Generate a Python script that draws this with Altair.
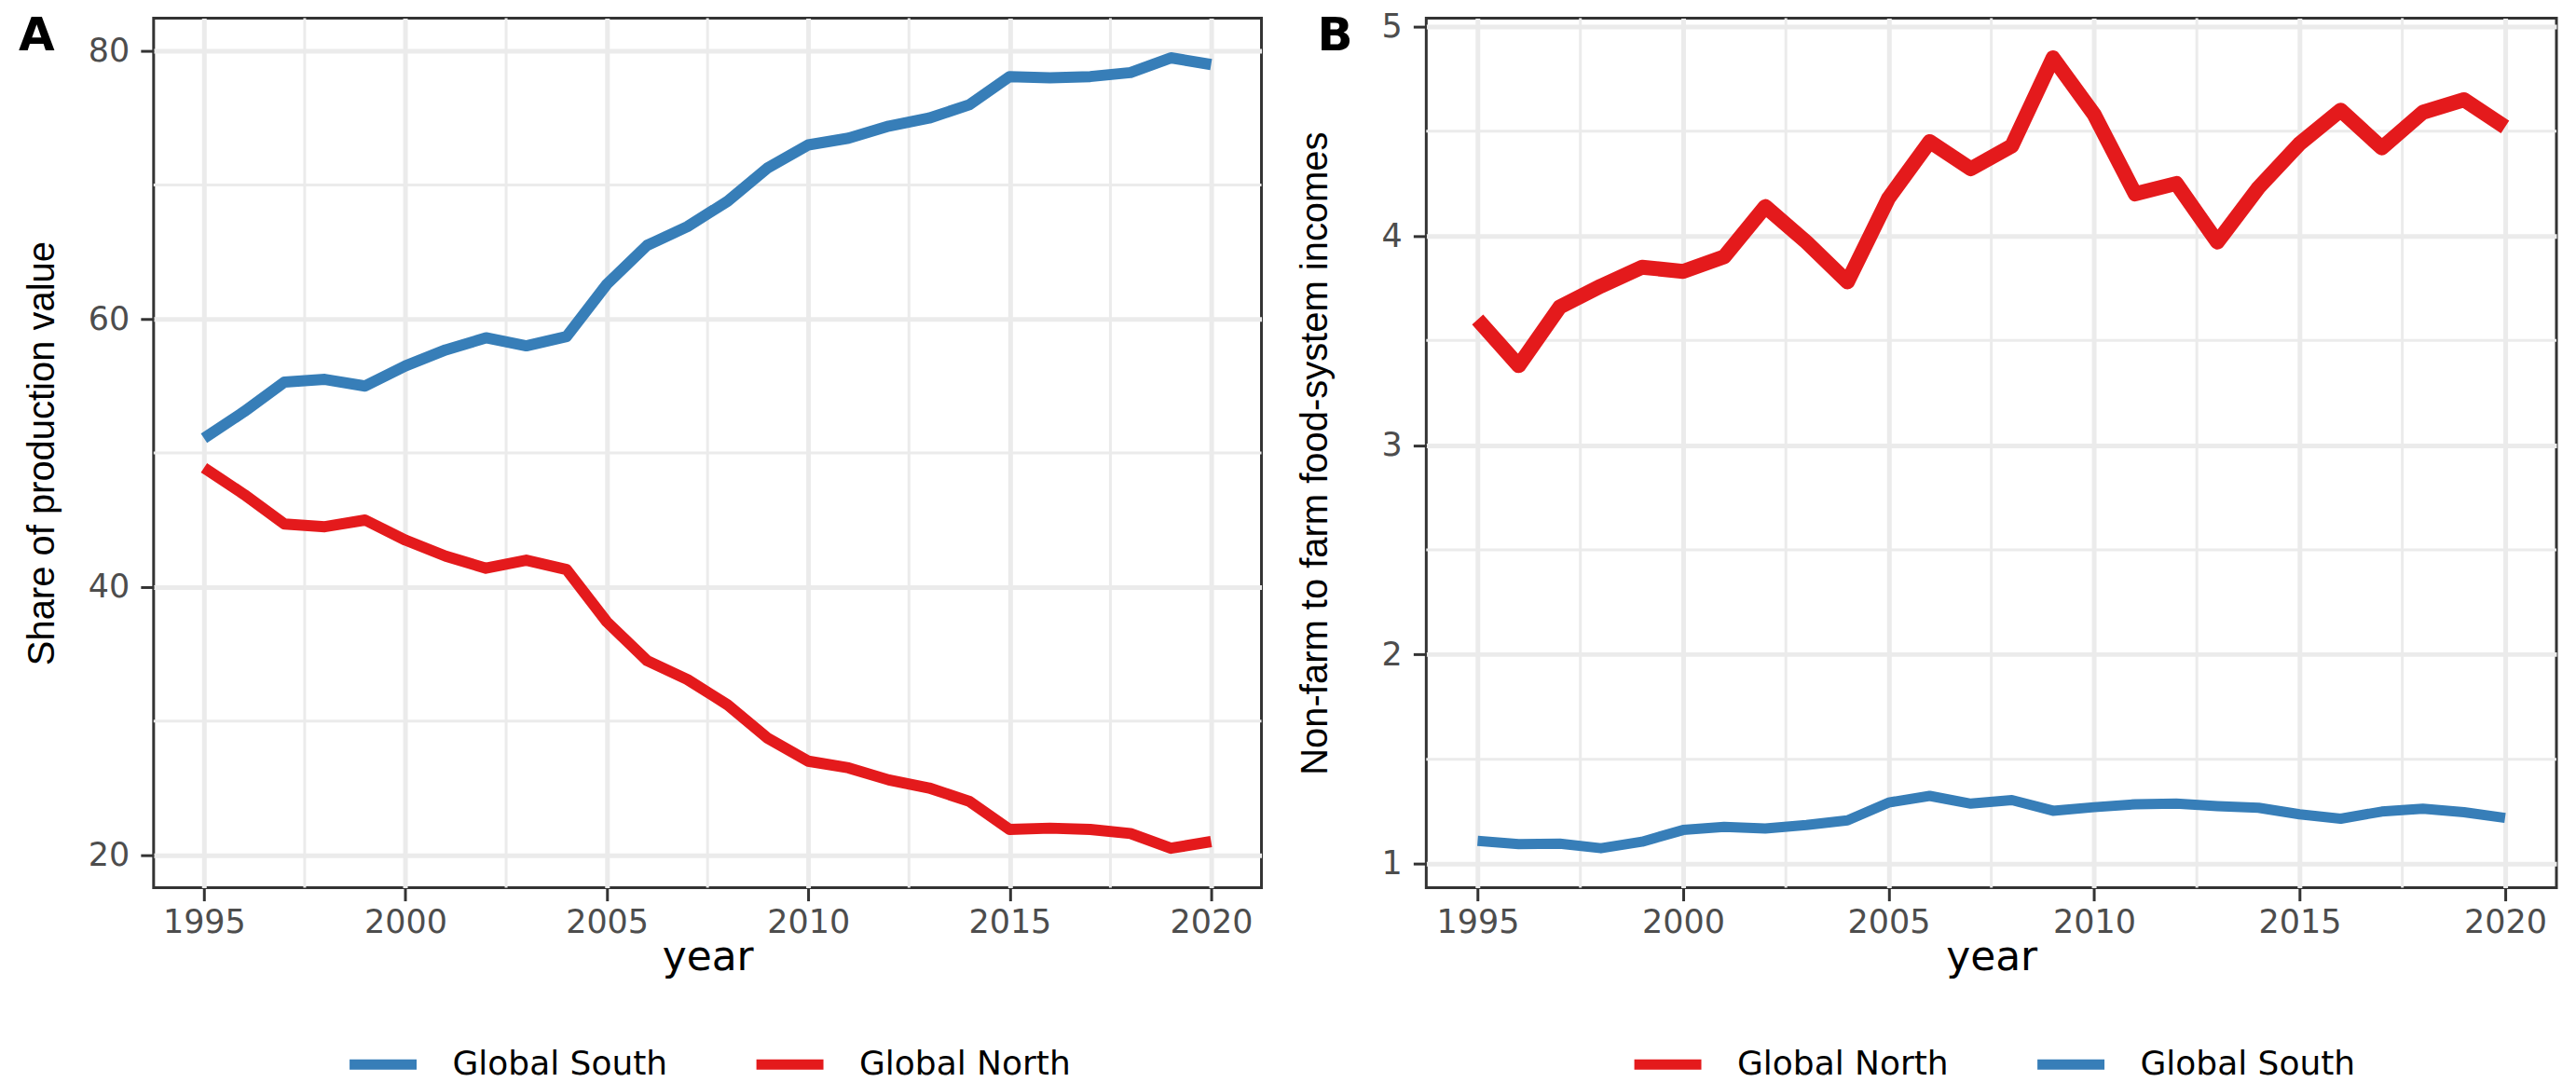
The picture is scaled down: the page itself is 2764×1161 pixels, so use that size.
import altair as alt
import pandas as pd

YEARS = list(range(1995, 2021))

A_SOUTH = [51.1, 53.1, 55.3, 55.5, 55.0, 56.5, 57.7, 58.6, 58.0, 58.7, 62.6, 65.5, 66.9,
           68.8, 71.3, 73.0, 73.5, 74.4, 75.0, 76.0, 78.1, 78.0, 78.1, 78.4, 79.5, 79.0]
A_NORTH = [48.9, 46.9, 44.7, 44.5, 45.0, 43.5, 42.3, 41.4, 42.0, 41.3, 37.4, 34.5, 33.1,
           31.2, 28.7, 27.0, 26.5, 25.6, 25.0, 24.0, 21.9, 22.0, 21.9, 21.6, 20.5, 21.0]
B_NORTH = [3.60, 3.38, 3.66, 3.76, 3.85, 3.83, 3.90, 4.14, 3.97, 3.78, 4.18, 4.45, 4.32,
           4.43, 4.85, 4.58, 4.20, 4.25, 3.97, 4.23, 4.44, 4.60, 4.42, 4.59, 4.65, 4.52]
B_SOUTH = [1.110, 1.095, 1.097, 1.075, 1.106, 1.162, 1.177, 1.169, 1.186, 1.208, 1.293, 1.325, 1.288,
           1.305, 1.254, 1.271, 1.285, 1.288, 1.276, 1.268, 1.237, 1.216, 1.250, 1.264, 1.247, 1.220]

SERIES_A = ["Global South", "Global North"]
SERIES_B = ["Global North", "Global South"]
PANEL_LETTERS = ["A", "B"]
RED = "#E41A1C"
BLUE = "#377EB8"

X_TICKS = [1995, 2000, 2005, 2010, 2015, 2020]
X_MINOR = [1997.5, 2002.5, 2007.5, 2012.5, 2017.5]
A_Y_TICKS = [20, 40, 60, 80]
A_Y_MINOR = [30, 50, 70]
B_Y_TICKS = [1, 2, 3, 4, 5]
B_Y_MINOR = [1.5, 2.5, 3.5, 4.5]

X_DOMAIN = [1993.75, 2021.25]
A_Y_DOMAIN = [17.55, 82.45]
B_Y_DOMAIN = [0.886, 5.039]

df_a = pd.DataFrame({
    "year": YEARS * 2,
    "value": A_SOUTH + A_NORTH,
    "region": ["Global South"] * len(YEARS) + ["Global North"] * len(YEARS),
})
df_b = pd.DataFrame({
    "year": YEARS * 2,
    "value": B_NORTH + B_SOUTH,
    "region": ["Global North"] * len(YEARS) + ["Global South"] * len(YEARS),
})

GRID = "#EBEBEB"
XSCALE = alt.Scale(domain=X_DOMAIN, nice=False, zero=False)


def x_enc():
    return alt.X("year:Q", scale=XSCALE,
                 axis=alt.Axis(values=X_TICKS, format="d", title="year", grid=True,
                               labelFlush=False))


def y_enc(domain, ticks, title):
    return alt.Y("value:Q", scale=alt.Scale(domain=domain, nice=False, zero=False),
                 axis=alt.Axis(values=ticks, format="d", title=title, grid=True,
                               titleFont="Liberation Sans", titleFontSize=40,
                               titleAngle=270, titleX=-119, titleY=467,
                               titleAlign="center", titleBaseline="middle",
                               labelPadding=12))


def legend(x):
    return alt.Legend(orient="none", legendX=x, legendY=1082, direction="horizontal",
                      title=None, symbolType="stroke", symbolSize=5184,
                      symbolStrokeWidth=11, labelOffset=33, columnPadding=73,
                      labelLimit=0, labelFont="DejaVu Sans", labelFontSize=36,
                      labelColor="black")


def minor_v():
    return alt.Chart(pd.DataFrame({"v": X_MINOR})).mark_rule(color=GRID, strokeWidth=3).encode(
        x=alt.X("v:Q", scale=XSCALE))


def minor_h(values, domain):
    return alt.Chart(pd.DataFrame({"v": values})).mark_rule(color=GRID, strokeWidth=3).encode(
        y=alt.Y("v:Q", scale=alt.Scale(domain=domain, nice=False, zero=False)))


def letter(txt, dx):
    return alt.Chart(pd.DataFrame({"t": [txt]})).mark_text(
        align="left", baseline="alphabetic", font="DejaVu Sans", fontSize=50,
        fontWeight="bold", color="black"
    ).encode(text="t:N", x=alt.value(dx), y=alt.value(34))


# ---------- Panel A ----------
a_lines = alt.Chart(df_a).mark_line(strokeWidth=12, strokeJoin="round").encode(
    x=x_enc(),
    y=y_enc(A_Y_DOMAIN, A_Y_TICKS, "Share of production value"),
    color=alt.Color("region:N", scale=alt.Scale(domain=SERIES_A, range=[BLUE, RED]),
                    sort=SERIES_A, legend=legend(205)),
    detail="region:N",
)
panel_a = alt.layer(minor_v(), minor_h(A_Y_MINOR, A_Y_DOMAIN), a_lines,
                    letter(PANEL_LETTERS[0], -145)).properties(width=1190, height=934)

# ---------- Panel B ----------
b_color = alt.Color("region:N", scale=alt.Scale(domain=SERIES_B, range=[RED, BLUE]),
                    sort=SERIES_B, legend=legend(218))
b_north = alt.Chart(df_b).transform_filter(alt.datum.region == "Global North").mark_line(
    strokeWidth=16, strokeJoin="round").encode(
    x=x_enc(),
    y=y_enc(B_Y_DOMAIN, B_Y_TICKS, "Non-farm to farm food-system incomes"),
    color=b_color,
)
b_south = alt.Chart(df_b).transform_filter(alt.datum.region == "Global South").mark_line(
    strokeWidth=11, strokeJoin="round").encode(
    x=x_enc(),
    y=y_enc(B_Y_DOMAIN, B_Y_TICKS, "Non-farm to farm food-system incomes"),
    color=b_color,
)
panel_b = alt.layer(minor_v(), minor_h(B_Y_MINOR, B_Y_DOMAIN), b_north, b_south,
                    letter(PANEL_LETTERS[1], -117)).properties(width=1214, height=934)

chart = alt.hconcat(panel_a, panel_b, spacing=177, bounds="flush").resolve_scale(
    color="independent", x="independent", y="independent"
).resolve_legend(color="independent").properties(
    padding={"left": 10, "top": 1, "right": 10, "bottom": 5}
).configure_view(
    stroke="#333333", strokeWidth=3
).configure_axis(
    labelFont="DejaVu Sans", labelFontSize=35, labelColor="#4D4D4D",
    tickColor="#333333", tickWidth=3, tickSize=14, domain=False,
    gridColor=GRID, gridWidth=5, titleFontWeight="normal", titleColor="black",
).configure_axisX(
    labelPadding=6, titleFont="DejaVu Sans", titleFontSize=44, titleY=88,
    titleBaseline="alphabetic",
)

chart.save("out.html", embed_options={"renderer": "svg", "actions": False})
